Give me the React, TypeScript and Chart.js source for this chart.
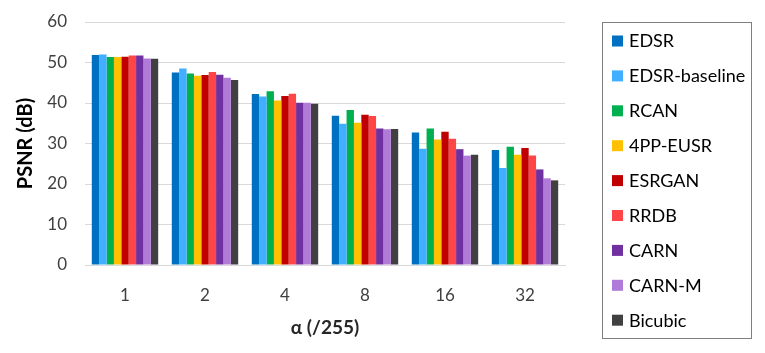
import React, { useEffect, useRef } from "react";
import { Chart, registerables } from "chart.js";

Chart.register(...registerables);

const categories = ["1", "2", "4", "8", "16", "32"];
const seriesNames = ["EDSR", "EDSR-baseline", "RCAN", "4PP-EUSR", "ESRGAN", "RRDB", "CARN", "CARN-M", "Bicubic"];
const seriesColors = ["#0070C0", "#41AEFF", "#00B050", "#FFC000", "#C00000", "#FF4545", "#7030A0", "#B07AD8", "#404040"];

const edsr = [51.85, 47.55, 42.2, 36.86, 32.7, 28.4];
const edsrBaseline = [52.0, 48.5, 41.6, 34.9, 28.7, 23.95];
const rcan = [51.36, 47.3, 42.9, 38.3, 33.7, 29.2];
const eusr4pp = [51.36, 46.7, 40.6, 35.1, 31.0, 27.2];
const esrgan = [51.4, 46.9, 41.7, 37.1, 32.9, 28.9];
const rrdb = [51.7, 47.65, 42.3, 36.8, 31.2, 27.06];
const carn = [51.7, 47.0, 40.05, 33.7, 28.6, 23.6];
const carnM = [51.0, 46.25, 40.05, 33.5, 27.0, 21.4];
const bicubic = [50.9, 45.7, 39.8, 33.6, 27.2, 20.9];

const seriesValues = [edsr, edsrBaseline, rcan, eusr4pp, esrgan, rrdb, carn, carnM, bicubic];

const yTicks = [0, 10, 20, 30, 40, 50, 60];

const FONT = "Lato, 'Noto Sans', sans-serif";

const boxLegend = {
  id: "boxLegend",
  afterDraw(chart: any) {
    const ctx = chart.ctx as CanvasRenderingContext2D;
    const area = chart.chartArea;
    const left = area.right + 37;
    const top = 22;
    const width = 149;
    const height = 316;
    ctx.save();
    ctx.strokeStyle = "#7F7F7F";
    ctx.lineWidth = 1;
    ctx.strokeRect(left + 0.5, top + 0.5, width, height);
    const step = 34.9;
    ctx.font = `18px ${FONT}`;
    ctx.textBaseline = "middle";
    chart.data.datasets.forEach((ds: any, i: number) => {
      const cy = top + 19 + i * step;
      ctx.fillStyle = ds.backgroundColor;
      ctx.fillRect(left + 10, cy - 5.5, 11, 11);
      ctx.fillStyle = "#000000";
      ctx.fillText(ds.label, left + 27, cy + 0.5);
    });
    ctx.restore();
  },
};

export default function App() {
  const ref = useRef<HTMLCanvasElement | null>(null);
  useEffect(() => {
    if (!ref.current) return;
    const chart = new Chart(ref.current, {
      type: "bar",
      data: {
        labels: categories,
        datasets: seriesNames.map((name, i) => ({
          label: name,
          data: seriesValues[i],
          backgroundColor: seriesColors[i],
          borderWidth: 0,
          categoryPercentage: 0.83,
          barPercentage: 1.0,
        })),
      },
      options: {
        animation: false,
        responsive: false,
        maintainAspectRatio: false,
        layout: { padding: { left: 0, top: 22, right: 200, bottom: 0 } },
        plugins: {
          legend: { display: false },
          tooltip: { enabled: false },
        },
        scales: {
          x: {
            grid: { display: false, drawTicks: false },
            border: { display: true, color: "#D9D9D9", width: 1 },
            ticks: { color: "#404040", font: { family: FONT, size: 17 }, padding: 20 },
            title: {
              display: true,
              text: "α (/255)",
              color: "#262626",
              font: { family: FONT, size: 19, weight: "bold" },
              padding: { top: 0, bottom: 14 },
            },
            afterFit(scale: any) {
              scale.height = 88;
            },
          },
          y: {
            min: 0,
            max: 60,
            afterBuildTicks(scale: any) {
              scale.ticks = yTicks.map((v) => ({ value: v }));
            },
            grid: { color: "#D9D9D9", drawTicks: true, tickLength: 16, tickColor: "rgba(0,0,0,0)" },
            border: { display: false },
            ticks: { color: "#404040", font: { family: FONT, size: 17 }, padding: 2 },
            title: {
              display: true,
              text: "PSNR (dB)",
              color: "#000000",
              font: { family: FONT, size: 20, weight: "bold" },
              padding: { top: 14, bottom: 0 },
            },
            afterFit(scale: any) {
              scale.width = 85;
            },
          },
        },
      },
      plugins: [boxLegend],
    });
    return () => chart.destroy();
  }, []);
  return (
    <div style={{ position: "fixed", left: 0, top: 0, width: 765, height: 353, background: "#fff" }}>
      <canvas ref={ref} width={765} height={353} style={{ width: 765, height: 353 }} />
    </div>
  );
}
